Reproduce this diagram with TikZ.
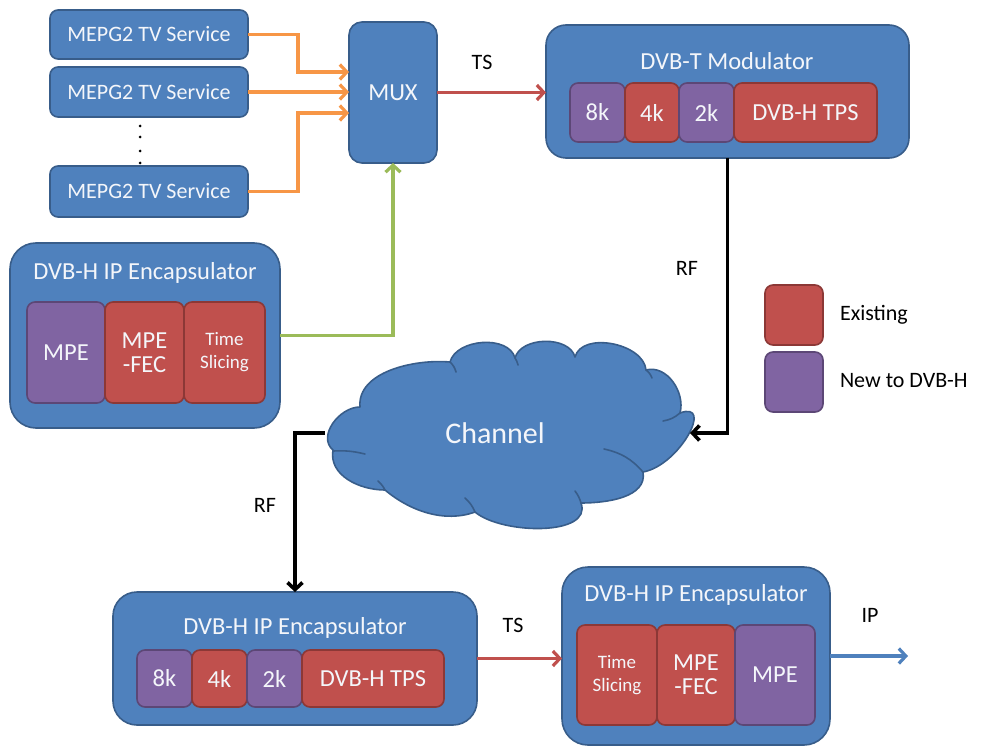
\documentclass[tikz,border=0pt]{standalone}
\usepackage{fontspec}
\setmainfont{Carlito}
\usetikzlibrary{arrows.meta}
\definecolor{boxblue}{HTML}{4F81BD}
\definecolor{boxblueline}{HTML}{385D8A}
\definecolor{boxred}{HTML}{C0504D}
\definecolor{boxredline}{HTML}{8C3836}
\definecolor{boxpurple}{HTML}{8064A2}
\definecolor{boxpurpleline}{HTML}{5C4776}
\definecolor{linkorange}{HTML}{F79646}
\definecolor{linkgreen}{HTML}{9BBB59}
\definecolor{textwhite}{HTML}{F4F6FA}
\begin{document}
\begin{tikzpicture}[x=1pt,y=-1pt,
  every node/.style={outer sep=0pt,inner sep=0pt},
  block/.style={draw=boxblueline,fill=boxblue,line width=1.6pt,anchor=north west,text=textwhite},
  subred/.style={draw=boxredline,fill=boxred,line width=1.6pt,rounded corners=8pt,anchor=north west,text=textwhite,align=center},
  subpurple/.style={draw=boxpurpleline,fill=boxpurple,line width=1.6pt,rounded corners=8pt,anchor=north west,text=textwhite,align=center},
  big/.style={font=\fontsize{24.5}{26}\selectfont},
  mid/.style={font=\fontsize{22}{24}\selectfont},
  small/.style={font=\fontsize{19}{21}\selectfont},
  title/.style={big,text=textwhite},
  lbl/.style={mid,text=black},
  tip/.style={-{Straight Barb[length=7pt,width=15pt]}},
  oarrow/.style={tip,draw=linkorange,line width=3.2pt},
  rarrow/.style={tip,draw=boxred,line width=3.2pt},
  karrow/.style={tip,draw=black,line width=3.6pt},
  barrow/.style={tip,draw=boxblue,line width=3.2pt},
  garrow/.style={tip,draw=linkgreen,line width=3.2pt},
  cloudbody/.style={draw=boxblueline,fill=boxblue,line width=1.6pt,line join=round},
  puffline/.style={draw=boxblueline,line width=1.6pt,line cap=round},
]
\useasboundingbox (0,0) rectangle (984,751);

% --- MPEG2 services and the multiplexer
\node[block,rounded corners=8pt,minimum width=198pt,minimum height=49pt,mid] (sv1) at (50,10) {MEPG2 TV Service};
\node[block,rounded corners=8pt,minimum width=198pt,minimum height=50pt,mid] (sv2) at (50,67) {MEPG2 TV Service};
\node[block,rounded corners=8pt,minimum width=198pt,minimum height=51pt,mid] (sv3) at (50,166) {MEPG2 TV Service};
\foreach \yy in {126,137,151,163} \fill (140,\yy) circle (1.5pt);
\node[block,rounded corners=13pt,minimum width=88pt,minimum height=141pt,big] (mux) at (349,22) {MUX};

% --- DVB-T modulator
\node[block,rounded corners=20pt,minimum width=363pt,minimum height=133pt] (mod) at (546,25) {};
\node[title] (modt) at (727,61) {DVB-T Modulator};
\node[subpurple,minimum width=55pt,minimum height=59pt,big] (m8k) at (570,83) {8k};
\node[subred,minimum width=54pt,minimum height=59pt,big] (m4k) at (625,83) {4k};
\node[subpurple,minimum width=55pt,minimum height=59pt,big] (m2k) at (679,83) {2k};
\node[subred,minimum width=143pt,minimum height=59pt,big] (mtps) at (734,83) {DVB-H TPS};

% --- transmitter side IP encapsulator
\node[block,rounded corners=26pt,minimum width=270pt,minimum height=185pt] (enc1) at (10,243) {};
\node[title] (enc1t) at (145,273) {DVB-H IP Encapsulator};
\node[subpurple,minimum width=78pt,minimum height=101pt,big] (e1mpe) at (27,302) {MPE};
\node[subred,minimum width=79pt,minimum height=101pt,big] (e1fec) at (105,302) {MPE\\[-2pt]-FEC};
\node[subred,minimum width=81pt,minimum height=101pt,small] (e1ts) at (184,302) {Time\\[2pt]Slicing};

% --- channel: cloud outline, its inner puff seams, and an anchor box for the links
\path[cloudbody]
  (333,450) to[out=140,in=180,looseness=1.05] (360,407)
            to[out=95,in=175,looseness=0.9] (450,362)
            to[out=75,in=105,looseness=0.95] (515,358)
            to[out=75,in=105,looseness=0.95] (575,357)
            to[out=75,in=95,looseness=0.95] (646,370)
            to[out=15,in=75,looseness=1.0] (680,413)
            to[out=20,in=10,looseness=1.35] (643,472)
            to[out=-80,in=0,looseness=0.95] (581,503)
            to[out=-70,in=-40,looseness=0.85] (475,512)
            to[out=-160,in=-40,looseness=0.9] (385,490)
            to[out=180,in=-100,looseness=1.0] (333,450) -- cycle;
\draw[puffline] (333,451) to[bend left=8] (365,454);
\draw[puffline] (450,362) to[bend left=15] (456,372);
\draw[puffline] (515,358) to[bend left=10] (518,365);
\draw[puffline] (646,370) to[bend left=15] (652,378);
\draw[puffline] (680,413) to[bend left=15] (663,421);
\draw[puffline] (643,472) to[bend right=18] (604,449);
\draw[puffline] (581,503) to[bend right=10] (575,491);
\draw[puffline] (475,512) to[bend right=12] (465,498);
\draw[puffline] (385,490) to[bend right=10] (378,481);
\node[minimum width=365pt,minimum height=180pt] (chan) at (507.5,433) {};
\node[font=\fontsize{30}{32}\selectfont,text=textwhite] (chant) at (495,433) {Channel};

% --- receiver side
\node[block,rounded corners=24pt,minimum width=364pt,minimum height=133pt] (enc2) at (113,592) {};
\node[title] (enc2t) at (295,628) {DVB-H IP Encapsulator};
\node[subpurple,minimum width=55pt,minimum height=57pt,big] (r8k) at (137,650) {8k};
\node[subred,minimum width=55pt,minimum height=57pt,big] (r4k) at (192,650) {4k};
\node[subpurple,minimum width=55pt,minimum height=57pt,big] (r2k) at (247,650) {2k};
\node[subred,minimum width=142pt,minimum height=57pt,big] (rtps) at (302,650) {DVB-H TPS};

\node[block,rounded corners=26pt,minimum width=268pt,minimum height=178pt] (enc3) at (562,567) {};
\node[title] (enc3t) at (696,595) {DVB-H IP Encapsulator};
\node[subred,minimum width=80pt,minimum height=100pt,small] (e3ts) at (577,625) {Time\\[2pt]Slicing};
\node[subred,minimum width=78pt,minimum height=100pt,big] (e3fec) at (657,625) {MPE\\[-2pt]-FEC};
\node[subpurple,minimum width=80pt,minimum height=100pt,big] (e3mpe) at (735,625) {MPE};
\coordinate (ipend) at (908,656);

% --- legend
\node[subred,minimum width=58pt,minimum height=60pt] (legred) at (765,285) {};
\node[subpurple,minimum width=58pt,minimum height=60pt] (legpurple) at (765,352) {};
\node[lbl,anchor=west] (legredt) at (840,315) {Existing};
\node[lbl,anchor=west] (legpurplet) at (840,381) {New to DVB-H};

% --- connectors
\draw[oarrow] (sv1.east) -- ++(50,0) |- (mux.west |- 0,72);
\draw[oarrow] (sv2.east) -- (mux.west |- sv2.east);
\draw[oarrow] (sv3.east) -- ++(50,0) |- (mux.west |- 0,113);
\draw[garrow] (enc1.east) -| (mux.south);
\draw[rarrow] (mux.east) -- (mux.east -| mod.west);
\draw[karrow] (mod.south) |- (chan.east);
\draw[karrow] (chan.west) -| (enc2.north);
\draw[rarrow] (enc2.east) -- (enc2.east -| enc3.west);
\draw[barrow] (enc3.east) -- (enc3.east -| ipend);

% --- link labels
\node[lbl] (ts1) at (482,62) {TS};
\node[lbl] (rf1) at (687,268) {RF};
\node[lbl] (rf2) at (265,505) {RF};
\node[lbl] (ts2) at (513,625) {TS};
\node[lbl] (ip) at (870,615) {IP};
\end{tikzpicture}
\end{document}
